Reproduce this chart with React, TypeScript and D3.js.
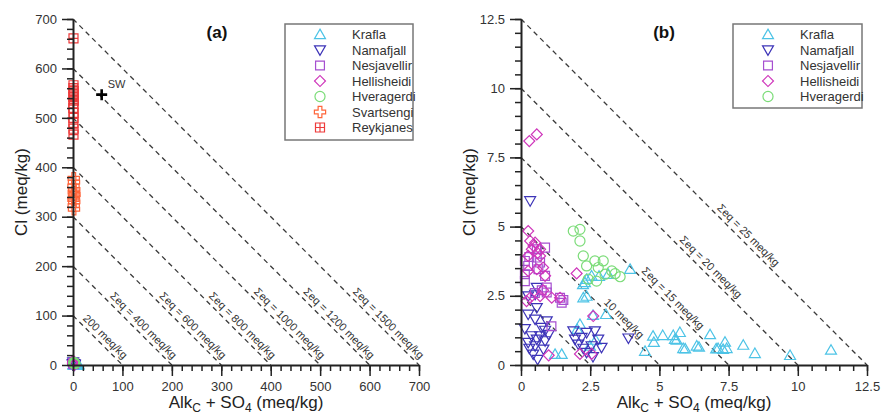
import * as d3 from 'd3';
import { useEffect, useRef } from 'react';

const W = 881;
const H = 417;
const FONT = 'Liberation Sans, Arial, sans-serif';

// Series (Alk_C + SO4, Cl) in meq/kg
const seriesNames = ['Krafla', 'Namafjall', 'Nesjavellir', 'Hellisheidi', 'Hveragerdi', 'Svartsengi', 'Reykjanes'];
const seriesColors = ['#4cc3e6', '#3d34b8', '#a64fd0', '#cf36bb', '#7bdc78', '#ff653a', '#ee3b3b'];

const krafla = [
  [11.2, 0.54], [9.72, 0.35], [8.45, 0.42], [8.03, 0.72], [7.43, 0.6], [7.37, 0.83], [7.3, 0.57],
  [7.12, 0.6], [7.05, 0.59], [6.83, 1.1], [6.43, 0.65], [6.35, 0.69], [5.93, 0.59], [5.86, 0.6],
  [5.74, 1.18], [5.62, 0.9], [5.56, 0.93], [5.5, 1.07], [5.12, 1.07], [4.8, 0.82], [4.77, 1.05],
  [4.48, 0.5], [3.94, 3.46], [3.07, 1.83], [2.82, 3.21], [2.37, 3.1], [2.24, 2.91], [2.25, 2.43],
  [2.6, 1.8], [2.13, 1.47], [2.03, 1.29], [1.23, 0.39], [1.47, 0.39], [2.49, 0.69], [2.7, 0.9],
  [2.55, 3.22], [3.15, 3.28], [2.31, 2.98], [2.37, 2.49]
];
const namafjall = [
  [0.33, 5.93], [3.88, 0.97], [0.57, 2.8], [0.26, 2.49], [0.51, 2.55], [0.57, 2.07], [0.26, 1.83],
  [0.51, 1.65], [0.93, 1.59], [0.14, 1.31], [0.74, 1.35], [0.87, 1.25], [0.38, 1.05], [0.57, 0.93],
  [0.26, 0.81], [0.51, 0.69], [0.87, 0.87], [0.81, 0.57], [0.44, 0.39], [0.69, 1.05], [1.0, 1.1],
  [0.3, 0.6], [1.89, 1.23], [2.19, 0.99], [1.95, 0.93], [2.07, 0.75], [2.37, 1.17], [2.67, 1.23],
  [2.79, 0.93], [2.55, 0.69], [2.37, 0.45], [2.91, 0.63], [2.6, 0.3], [2.25, 0.6], [0.6, 0.2]
];
const nesjavellir = [
  [0.14, 3.76], [0.14, 3.28], [0.14, 3.03], [0.57, 3.88], [0.87, 4.24], [0.26, 3.58], [0.69, 3.7],
  [0.93, 2.8], [0.75, 2.7], [1.47, 2.25], [1.53, 2.35], [1.41, 2.43], [0.57, 4.18], [0.87, 3.22],
  [0.63, 3.46], [0.3, 3.9], [0.5, 2.6], [0.93, 2.62], [1.1, 1.4]
];
const hellisheidi = [
  [0.3, 8.09], [0.57, 8.33], [0.26, 4.84], [0.33, 4.48], [0.51, 4.42], [0.69, 4.18], [0.39, 4.18],
  [0.26, 3.94], [0.69, 3.94], [0.57, 3.46], [0.8, 3.52], [0.87, 3.22], [0.26, 3.4], [0.33, 2.43],
  [0.2, 2.31], [1.11, 2.43], [1.41, 2.43], [2.01, 3.31], [2.61, 1.77], [0.69, 2.49], [0.8, 2.7],
  [2.13, 0.4], [2.55, 0.4], [1.0, 0.35], [0.45, 4.3], [0.6, 4.05]
];
const hveragerdi = [
  [1.89, 4.84], [2.13, 4.9], [2.13, 4.48], [2.25, 3.94], [2.37, 3.58], [2.67, 3.76], [2.97, 3.76],
  [2.79, 3.52], [2.43, 3.1], [2.73, 3.03], [3.28, 3.4], [3.04, 3.28], [3.58, 3.19], [3.4, 3.3]
];
const svartsengi = [
  [1.5, 378], [2, 370], [1, 362], [2.5, 355], [1.5, 350], [3, 345], [2, 340], [1, 335], [2.5, 330],
  [1.5, 322], [2, 315]
];
const reykjanes = [
  [1, 661], [1, 566], [0.8, 560], [1.5, 554], [1.2, 548], [0.6, 542], [1.8, 535], [1, 528], [0.5, 520],
  [1.4, 510], [1, 500], [0.7, 490], [1.2, 478], [1, 466]
];
const seawater = [58, 547];

// Axis ticks
const aTicks = [0, 100, 200, 300, 400, 500, 600, 700];
const aTickLabels = ['0', '100', '200', '300', '400', '500', '600', '700'];
const bTicks = [0, 2.5, 5, 7.5, 10, 12.5];
const bTickLabels = ['0', '2.5', '5', '7.5', '10', '12.5'];

// Iso-sum lines (Cl + Alk_C + SO4 = k) and their labels
const aSums = [100, 200, 300, 400, 500, 600, 700];
const aSumLabels = ['200 meq/kg', 'Σeq = 400 meq/kg', 'Σeq = 600 meq/kg', 'Σeq = 800 meq/kg',
  'Σeq = 1000 meq/kg', 'Σeq = 1200 meq/kg', 'Σeq = 1500 meq/kg'];
const aLabelAt = [95, 195, 295, 395, 495, 595, 695];
const bSums = [2.5, 5, 7.5, 10, 12.5];
const bSumLabels = ['', '10 meq/kg', 'Σeq = 15 meq/kg', 'Σeq = 20 meq/kg', 'Σeq = 25 meq/kg'];
const bLabelAt = [0, 4.18, 6.35, 7.72, 9.07];

const reykPath = 'M-4.5,-4.5h9v9h-9Z M0,-4.5v9 M-4.5,0h9';

function symbolFor(i) {
  if (i === 0) return { d: d3.symbol(d3.symbolTriangle, 52)(), rot: 0, dy: 1 };
  if (i === 1) return { d: d3.symbol(d3.symbolTriangle, 52)(), rot: 180, dy: -1 };
  if (i === 2) return { d: d3.symbol(d3.symbolSquare, 78)(), rot: 0, dy: 0 };
  if (i === 3) return { d: d3.symbol(d3.symbolSquare, 60)(), rot: 45, dy: 0 };
  if (i === 4) return { d: d3.symbol(d3.symbolCircle, 80)(), rot: 0, dy: 0 };
  if (i === 5) return { d: d3.symbol(d3.symbolCross, 70)(), rot: 0, dy: 0 };
  return { d: reykPath, rot: 0, dy: 0 };
}

function drawPanel(svg, p) {
  const x = d3.scaleLinear().domain([0, p.max]).range([p.left, p.right]);
  const y = d3.scaleLinear().domain([0, p.max]).range([p.bottom, p.top]);
  const g = svg.append('g');

  // dashed iso-sum lines
  p.sums.forEach((k, i) => {
    g.append('line')
      .attr('x1', x(0)).attr('y1', y(k))
      .attr('x2', x(k)).attr('y2', y(0))
      .attr('stroke', '#3a3a3a')
      .attr('stroke-width', 1.3)
      .attr('stroke-dasharray', '5,4');
    const lbl = p.sumLabels[i];
    if (!lbl) return;
    const at = p.labelAt[i];
    const px = x(at) + 3;
    const py = y(k - at) - 3;
    g.append('text')
      .attr('transform', `translate(${px},${py}) rotate(45)`)
      .attr('text-anchor', 'end')
      .attr('font-family', FONT)
      .attr('font-size', 11)
      .attr('fill', '#333')
      .text(lbl);
  });

  // data
  p.series.forEach((idx) => {
    const data = p.data[idx];
    const s = symbolFor(idx);
    g.append('g')
      .selectAll('path')
      .data(data)
      .join('path')
      .attr('transform', (d) => `translate(${x(d[0])},${y(d[1]) + s.dy}) rotate(${s.rot})`)
      .attr('d', s.d)
      .attr('fill', 'none')
      .attr('stroke', seriesColors[idx])
      .attr('stroke-width', 1.2);
  });

  if (p.sw) {
    g.append('path')
      .attr('transform', `translate(${x(p.sw[0])},${y(p.sw[1])})`)
      .attr('d', 'M-5.5,0H5.5M0,-5.5V5.5')
      .attr('stroke', '#000')
      .attr('stroke-width', 2.6);
    g.append('text')
      .attr('x', x(p.sw[0]) + 6).attr('y', y(p.sw[1]) - 7)
      .attr('font-family', FONT).attr('font-size', 11).attr('fill', '#333')
      .text('SW');
  }

  // axes
  const minor = d3.range(0, p.max + 1e-9, p.minorStep);
  const xg = g.append('g').attr('transform', `translate(0,${p.bottom})`);
  xg.append('g').call(d3.axisBottom(x).tickValues(minor).tickSize(6).tickSizeOuter(0).tickFormat(() => ''))
    .call((a) => a.select('.domain').remove());
  xg.append('g').call(d3.axisBottom(x).tickValues(p.ticks).tickSize(11).tickSizeOuter(0).tickPadding(6)
    .tickFormat((d, i) => p.tickLabels[i]));
  const yg = g.append('g').attr('transform', `translate(${p.left},0)`);
  yg.append('g').call(d3.axisLeft(y).tickValues(minor).tickSize(6).tickSizeOuter(0).tickFormat(() => ''))
    .call((a) => a.select('.domain').remove());
  yg.append('g').call(d3.axisLeft(y).tickValues(p.ticks).tickSize(11).tickSizeOuter(0).tickPadding(5)
    .tickFormat((d, i) => p.tickLabels[i]));
  g.selectAll('.domain').attr('stroke', '#222').attr('stroke-width', 2);
  g.selectAll('.tick line').attr('stroke', '#222').attr('stroke-width', 1.5);
  g.selectAll('.tick text').attr('font-family', FONT).attr('font-size', 13).attr('fill', '#333');

  // axis titles
  const cx = (p.left + p.right) / 2;
  const xt = g.append('text')
    .attr('x', cx).attr('y', 408)
    .attr('text-anchor', 'middle')
    .attr('font-family', FONT).attr('font-size', 17).attr('fill', '#222');
  xt.append('tspan').text('Alk');
  xt.append('tspan').attr('font-size', 12).attr('dy', 4).text('C');
  xt.append('tspan').attr('dy', -4).text(' + SO');
  xt.append('tspan').attr('font-size', 12).attr('dy', 4).text('4');
  xt.append('tspan').attr('dy', -4).text(' (meq/kg)');
  g.append('text')
    .attr('transform', `translate(${p.left - 46},${(p.top + p.bottom) / 2}) rotate(-90)`)
    .attr('text-anchor', 'middle')
    .attr('font-family', FONT).attr('font-size', 17).attr('fill', '#222')
    .text('Cl (meq/kg)');

  g.append('text')
    .attr('x', p.tagX).attr('y', 38)
    .attr('text-anchor', 'middle')
    .attr('font-family', FONT).attr('font-size', 17).attr('font-weight', 'bold').attr('fill', '#111')
    .text(p.tag);

  // legend
  const lg = g.append('g');
  lg.append('rect')
    .attr('x', p.legend.x).attr('y', p.legend.y)
    .attr('width', p.legend.w).attr('height', p.legend.h)
    .attr('fill', '#fff').attr('stroke', '#777').attr('stroke-width', 1.5);
  p.legendItems.forEach((idx, i) => {
    const yy = p.legend.y + 10.5 + i * 15.5;
    const s = symbolFor(idx);
    lg.append('path')
      .attr('transform', `translate(${p.legend.x + 35},${yy + s.dy}) rotate(${s.rot})`)
      .attr('d', s.d)
      .attr('fill', 'none')
      .attr('stroke', seriesColors[idx])
      .attr('stroke-width', 1.2);
    lg.append('text')
      .attr('x', p.legend.x + 67).attr('y', yy + 4.5)
      .attr('font-family', FONT).attr('font-size', 13).attr('fill', '#333')
      .text(seriesNames[idx]);
  });
}

export default function App() {
  const svgRef = useRef(null);

  useEffect(() => {
    const svg = d3.select(svgRef.current);
    svg.selectAll('*').remove();
    const data = [krafla, namafjall, nesjavellir, hellisheidi, hveragerdi, svartsengi, reykjanes];

    drawPanel(svg, {
      max: 700, left: 73, right: 419, top: 19, bottom: 365,
      ticks: aTicks, tickLabels: aTickLabels, minorStep: 20,
      sums: aSums, sumLabels: aSumLabels, labelAt: aLabelAt,
      data, series: [0, 1, 2, 3, 4, 5, 6], sw: seawater,
      tag: '(a)', tagX: 217,
      legend: { x: 285, y: 24, w: 128, h: 116 },
      legendItems: [0, 1, 2, 3, 4, 5, 6]
    });
    drawPanel(svg, {
      max: 12.5, left: 521, right: 867, top: 19, bottom: 365,
      ticks: bTicks, tickLabels: bTickLabels, minorStep: 0.5,
      sums: bSums, sumLabels: bSumLabels, labelAt: bLabelAt,
      data, series: [0, 1, 2, 3, 4], sw: null,
      tag: '(b)', tagX: 664,
      legend: { x: 733, y: 24, w: 129, h: 84 },
      legendItems: [0, 1, 2, 3, 4]
    });
  });

  return (
    <svg
      ref={svgRef}
      width={W}
      height={H}
      viewBox={`0 0 ${W} ${H}`}
      style={{ position: 'absolute', left: 0, top: 0, background: '#fff' }}
    />
  );
}
